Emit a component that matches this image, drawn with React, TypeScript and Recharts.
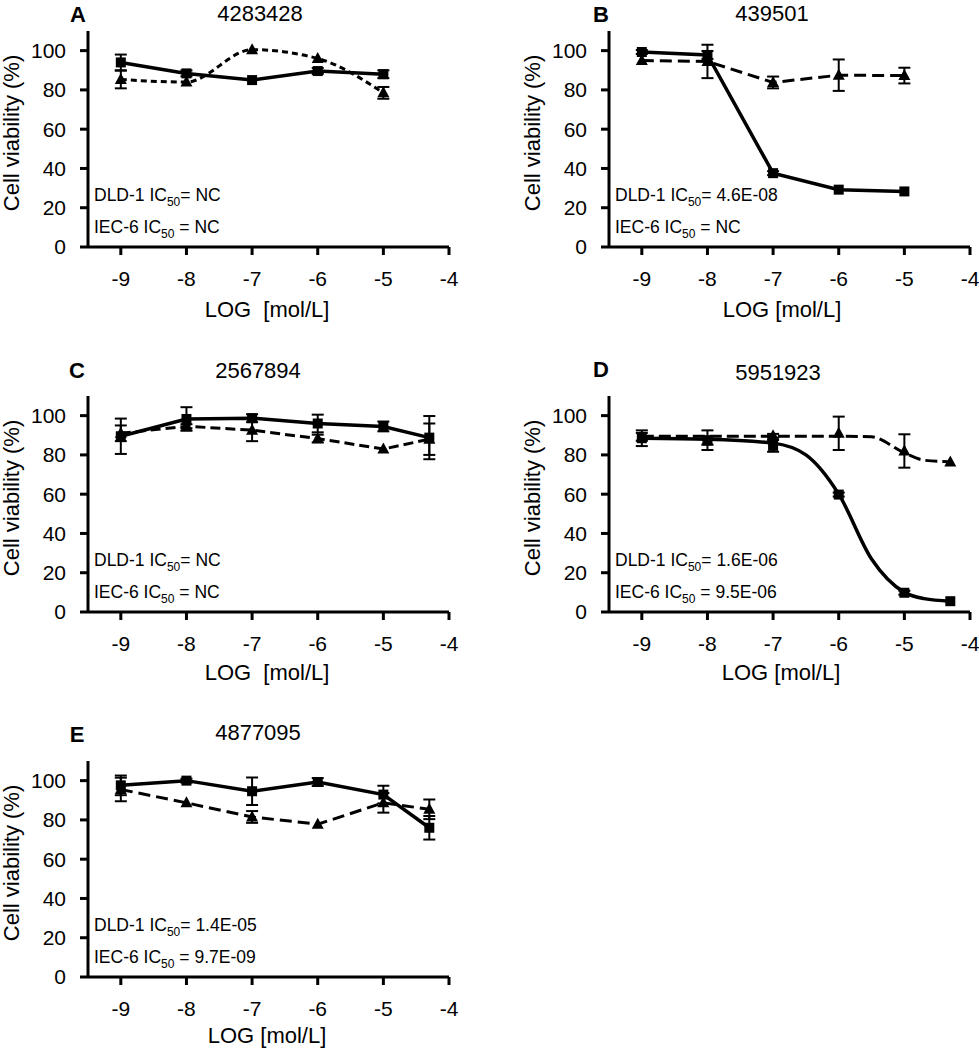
import React from 'react';
import { LineChart, Line, XAxis, YAxis, ErrorBar } from 'recharts';

// ---------- data ----------
const dosesAB = [-9, -8, -7, -6, -5];
const dosesCDE = [-9, -8, -7, -6, -5, -4.3];
const xTicks = [-9, -8, -7, -6, -5, -4];
const yTicks = [0, 20, 40, 60, 80, 100];

const panelLetters = ['A', 'B', 'C', 'D', 'E'];
const panelTitles = ['4283428', '439501', '2567894', '5951923', '4877095'];
const xAxisTitles = ['LOG  [mol/L]', 'LOG [mol/L]', 'LOG  [mol/L]', 'LOG [mol/L]', 'LOG [mol/L]'];
const dldIC50 = ['NC', '4.6E-08', 'NC', '1.6E-06', '1.4E-05'];
const iecIC50 = ['NC', 'NC', 'NC', '9.5E-06', '9.7E-09'];

// A
const dldA = [94, 88.4, 85, 89.6, 88];
const dldErrA = [4, 1.5, 0, 1.5, 2];
const iecA = [85.3, 84, 100.5, 96, 78.5];
const iecErrA = [4.5, 0, 0, 0, 3];
// B
const dldB = [99.3, 97.8, 37.6, 29.2, 28.3];
const dldErrB = [1, 2, 1, 0, 0];
const iecB = [95, 94.5, 83.8, 87.5, 87.3];
const iecErrB = [0, 8.5, 3, 8, 4];
// C
const dldC = [89.5, 98.3, 98.7, 96, 94.5, 88.8];
const dldErrC = [9, 6, 2, 4.5, 2.5, 11];
const iecC = [91, 94.6, 92.6, 88.3, 83, 88];
const iecErrC = [4, 1, 5.6, 2, 0, 8];
// D
const dldD = [88.5, 87.5, 84.6, 59.8, 9.8, 5.5];
const dldErrD = [4, 5, 3, 1, 1, 0];
const iecD = [89.2, 87.2, 89.7, 91, 82, 76.4];
const iecErrD = [2, 2, 1, 8.5, 8.5, 0];
// D fitted curves
const fitDosesD = [-9, -8, -7, -6.5, -6, -5.5, -5, -4.7, -4.3];
const fitDldD = [88.5, 88, 86, 80, 60, 27, 10, 6.8, 5.5];
const fitIecD = [89.5, 89.5, 89.5, 89.5, 89.5, 89.2, 81, 77.3, 76.5];
// E
const dldE = [97.6, 100, 94.6, 99.3, 92.9, 76];
const dldErrE = [5, 1, 7, 2, 4.5, 6];
const iecE = [95.5, 88.7, 81.5, 77.8, 88.7, 85.4];
const iecErrE = [6, 0, 3, 0, 5, 5];

const buildRows = (doses: number[], dld: number[], dldErr: number[], iec: number[], iecErr: number[]) =>
  doses.map((x, i) => ({ x, dld: dld[i], dldErr: dldErr[i], iec: iec[i], iecErr: iecErr[i] }));

const panelRows = [
  buildRows(dosesAB, dldA, dldErrA, iecA, iecErrA),
  buildRows(dosesAB, dldB, dldErrB, iecB, iecErrB),
  buildRows(dosesCDE, dldC, dldErrC, iecC, iecErrC),
  buildRows(dosesCDE, dldD, dldErrD, iecD, iecErrD),
  buildRows(dosesCDE, dldE, dldErrE, iecE, iecErrE),
];
const fitRowsD = fitDosesD.map((x, i) => ({ x, dldFit: fitDldD[i], iecFit: fitIecD[i] }));

// ---------- layout / style ----------
const FONT = "'Liberation Sans', Arial, Helvetica, sans-serif";
const CHART_W = 470;
const CHART_H = 300;
const PLOT_LEFT = 88;
const PLOT_TOP = 31;
const PLOT_BOTTOM = 247;

const layout = [
  { left: 0, top: 0, letterX: 78, letterTop: 7, titleX: 260, titleTop: 6, xlabX: 267, xlabTop: 302, dash: '6 4', iecType: 'monotone' },
  { left: 521, top: 0, letterX: 601, letterTop: 7, titleX: 772, titleTop: 6, xlabX: 782, xlabTop: 302, dash: '12 6', iecType: 'linear' },
  { left: 0, top: 365, letterX: 77, letterTop: 363, titleX: 258, titleTop: 363, xlabX: 267, xlabTop: 665, dash: '10 5', iecType: 'linear' },
  { left: 521, top: 365, letterX: 601, letterTop: 362, titleX: 778, titleTop: 365, xlabX: 781, xlabTop: 665, dash: '12 5', iecType: 'linear', fit: true },
  { left: 0, top: 730, letterX: 77, letterTop: 727, titleX: 258, titleTop: 725, xlabX: 267, xlabTop: 1028, dash: '12 6', iecType: 'linear' },
];

const makeSquare = (k: string) => (props: any) => {
  const { cx, cy, index } = props;
  if (cx == null || cy == null) return <g key={`${k}${index}`} />;
  return <rect key={`${k}${index}`} x={cx - 5} y={cy - 5} width={10} height={10} fill="#000" />;
};
const makeTriangle = (k: string) => (props: any) => {
  const { cx, cy, index } = props;
  if (cx == null || cy == null) return <g key={`${k}${index}`} />;
  return (
    <polygon
      key={`${k}${index}`}
      points={`${cx},${cy - 6.5} ${cx + 6},${cy + 4.5} ${cx - 6},${cy + 4.5}`}
      fill="#000"
    />
  );
};

const capTopToDivTop = (capTop: number, size: number) => capTop - 0.13 * size;

function Panel({ idx }: { idx: number }) {
  const L = layout[idx];
  const rows = panelRows[idx];
  const y0 = L.top + PLOT_BOTTOM;
  const annSize = 17.5;
  const annLeft = L.left + PLOT_LEFT + 6;
  const line1Top = y0 - 45 - 0.8465 * annSize;
  const line2Top = y0 - 13 - 0.8465 * annSize;
  const subStyle: React.CSSProperties = { fontSize: 12, position: 'relative', top: 5 };
  return (
    <>
      <div style={{ position: 'absolute', left: L.left, top: L.top }}>
        <LineChart
          width={CHART_W}
          height={CHART_H}
          data={rows}
          margin={{ top: PLOT_TOP, right: CHART_W - 449, bottom: CHART_H - PLOT_BOTTOM - 40, left: 0 }}
        >
          <XAxis
            dataKey="x"
            type="number"
            domain={[-9.5, -4]}
            ticks={xTicks}
            allowDataOverflow
            height={40}
            axisLine={{ stroke: '#000', strokeWidth: 3 }}
            tickLine={{ stroke: '#000', strokeWidth: 3 }}
            tickSize={8}
            tickMargin={16}
            tick={{ fill: '#000', fontSize: 21, fontFamily: FONT }}
            interval={0}
          />
          <YAxis
            type="number"
            domain={[0, 110]}
            ticks={yTicks}
            allowDataOverflow
            width={PLOT_LEFT}
            axisLine={{ stroke: '#000', strokeWidth: 3 }}
            tickLine={{ stroke: '#000', strokeWidth: 3 }}
            tickSize={8}
            tickMargin={14}
            tick={{ fill: '#000', fontSize: 21, fontFamily: FONT }}
            interval={0}
          />
          {L.fit && (
            <Line
              data={fitRowsD}
              dataKey="iecFit"
              type="monotone"
              stroke="#000"
              strokeWidth={3}
              strokeDasharray={L.dash}
              dot={false}
              activeDot={false}
              isAnimationActive={false}
            />
          )}
          {L.fit && (
            <Line
              data={fitRowsD}
              dataKey="dldFit"
              type="monotone"
              stroke="#000"
              strokeWidth={3.5}
              dot={false}
              activeDot={false}
              isAnimationActive={false}
            />
          )}
          <Line
            dataKey="iec"
            type={L.iecType as any}
            stroke={L.fit ? 'none' : '#000'}
            strokeWidth={3}
            strokeDasharray={L.dash}
            dot={makeTriangle(`t${idx}-`)}
            activeDot={false}
            isAnimationActive={false}
          >
            <ErrorBar dataKey="iecErr" width={6} stroke="#000" strokeWidth={2} direction="y" isAnimationActive={false} />
          </Line>
          <Line
            dataKey="dld"
            type="linear"
            stroke={L.fit ? 'none' : '#000'}
            strokeWidth={3.5}
            dot={makeSquare(`s${idx}-`)}
            activeDot={false}
            isAnimationActive={false}
          >
            <ErrorBar dataKey="dldErr" width={6} stroke="#000" strokeWidth={2} direction="y" isAnimationActive={false} />
          </Line>
        </LineChart>
      </div>

      {/* panel letter */}
      <div
        style={{
          position: 'absolute',
          left: L.letterX,
          top: capTopToDivTop(L.letterTop, 22),
          transform: 'translateX(-50%)',
          fontSize: 22,
          lineHeight: '22px',
          fontWeight: 'bold',
          whiteSpace: 'pre',
        }}
      >
        {panelLetters[idx]}
      </div>
      {/* title */}
      <div
        style={{
          position: 'absolute',
          left: L.titleX,
          top: capTopToDivTop(L.titleTop, 22),
          transform: 'translateX(-50%)',
          fontSize: 22,
          lineHeight: '22px',
          whiteSpace: 'pre',
        }}
      >
        {panelTitles[idx]}
      </div>
      {/* y axis title */}
      <div
        style={{
          position: 'absolute',
          left: L.left + 12,
          top: L.top + 133,
          transform: 'translate(-50%, -50%) rotate(-90deg)',
          fontSize: 22,
          lineHeight: '22px',
          whiteSpace: 'pre',
        }}
      >
        Cell viability (%)
      </div>
      {/* x axis title */}
      <div
        style={{
          position: 'absolute',
          left: L.xlabX,
          top: capTopToDivTop(L.xlabTop, 22),
          transform: 'translateX(-50%)',
          fontSize: 22,
          lineHeight: '22px',
          whiteSpace: 'pre',
        }}
      >
        {xAxisTitles[idx]}
      </div>
      {/* IC50 annotations */}
      <div
        style={{
          position: 'absolute',
          left: annLeft,
          top: line1Top,
          fontSize: annSize,
          lineHeight: `${annSize}px`,
          whiteSpace: 'pre',
        }}
      >
        DLD-1 IC<span style={subStyle}>50</span>= {dldIC50[idx]}
      </div>
      <div
        style={{
          position: 'absolute',
          left: annLeft,
          top: line2Top,
          fontSize: annSize,
          lineHeight: `${annSize}px`,
          whiteSpace: 'pre',
        }}
      >
        IEC-6 IC<span style={subStyle}>50</span> = {iecIC50[idx]}
      </div>
    </>
  );
}

export default function App() {
  return (
    <div
      style={{
        position: 'absolute',
        left: 0,
        top: 0,
        width: 979,
        height: 1050,
        overflow: 'hidden',
        background: '#fff',
        color: '#000',
        fontFamily: FONT,
      }}
    >
      {[0, 1, 2, 3, 4].map((i) => (
        <Panel key={i} idx={i} />
      ))}
    </div>
  );
}
